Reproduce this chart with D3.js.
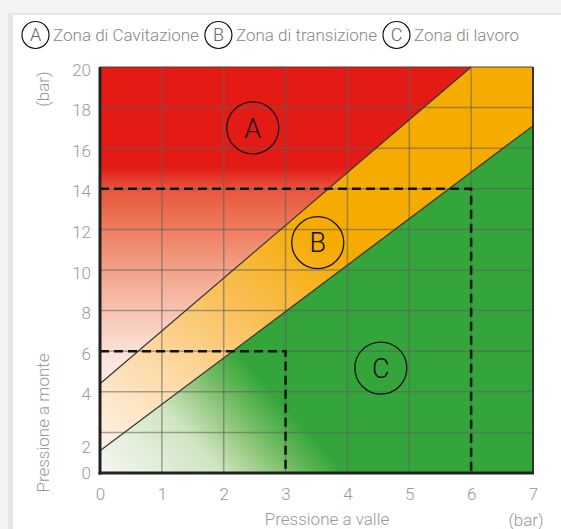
<!DOCTYPE html>
<html>
<head>
<meta charset="utf-8">
<script src="https://cdn.jsdelivr.net/npm/d3@7"></script>
<style>
  html, body { margin: 0; padding: 0; background: #f3f3f3; }
  svg { display: block; }
  text { font-family: Roboto, "Liberation Sans", sans-serif; font-weight: 300; }
</style>
</head>
<body>
<svg id="chart" width="561" height="529"></svg>
<script>
// Données
const zoneLetters = ["A", "B", "C"];
const zoneNames = ["Zona di Cavitazione", "Zona di transizione", "Zona di lavoro"];
const xTicks = [0, 1, 2, 3, 4, 5, 6, 7];
const yTicks = [0, 2, 4, 6, 8, 10, 12, 14, 16, 18, 20];
// limites entre zones (pression aval, pression amont)
const upperLine = [[0, 4.4], [6, 20]];
const lowerLine = [[0, 1.1], [7, 17.1]];
// points de lecture en pointillés
const dashedPoints = [[3, 6], [6, 14]];
// centres des étiquettes A, B, C
const labelPoints = [[2.47, 17.0], [3.52, 11.35], [4.54, 5.17]];

const svg = d3.select("#chart");
const W = 561, H = 529;
const margin = { top: 67, right: 28, bottom: 56, left: 100 };

const x = d3.scaleLinear().domain([0, 7]).range([margin.left, W - margin.right]);
const y = d3.scaleLinear().domain([0, 20]).range([H - margin.bottom, margin.top]);

// Panneau blanc
svg.append("rect").attr("x", 8).attr("y", 13).attr("width", W).attr("height", H).attr("fill", "#e6e6e6");
svg.append("rect").attr("x", 13).attr("y", 15).attr("width", W).attr("height", H).attr("fill", "#fff");

// Dégradés
const defs = svg.append("defs");
function gradient(id, p1, p2, stops) {
    const g = defs.append("linearGradient")
        .attr("id", id)
        .attr("gradientUnits", "userSpaceOnUse")
        .attr("x1", x(p1[0])).attr("y1", y(p1[1]))
        .attr("x2", x(p2[0])).attr("y2", y(p2[1]));
    stops.forEach(s => g.append("stop").attr("offset", s[0]).attr("stop-color", s[1]));
}
gradient("gradA", [0, 20], [0, 4], [
    [0, "#e31b14"], [0.31, "#e31b14"], [0.375, "#e8553c"], [0.5, "#ee7d5e"],
    [0.625, "#f3a288"], [0.75, "#f7c3b1"], [0.875, "#fbe0d7"], [1, "#fff2ee"]
]);
gradient("gradB", [0, 1], [3, 13], [
    [0, "#fef3ea"], [0.35, "#fdd9a5"], [0.7, "#f9bc4c"], [1, "#f6ab00"]
]);
gradient("gradC", [0, 0], [2.2, 6], [
    [0, "#f5f8f2"], [0.5, "#cfe5c2"], [0.65, "#a5d090"], [0.82, "#6cba5e"], [1, "#34a53a"]
]);

// Zones
const zoneA = [[0, 20], upperLine[1], upperLine[0]];
const zoneB = [upperLine[0], upperLine[1], [7, 20], lowerLine[1], lowerLine[0]];
const zoneC = [[0, 0], lowerLine[0], lowerLine[1], [7, 0]];
const line = d3.line().x(d => x(d[0])).y(d => y(d[1]));

svg.append("path").attr("d", line(zoneA) + "Z").attr("fill", "url(#gradA)");
svg.append("path").attr("d", line(zoneB) + "Z").attr("fill", "url(#gradB)");
svg.append("path").attr("d", line(zoneC) + "Z").attr("fill", "url(#gradC)");

// Grille
svg.append("g")
    .selectAll("line.vx")
    .data(xTicks.slice(1, -1))
    .enter()
    .append("line")
    .attr("x1", d => x(d)).attr("x2", d => x(d))
    .attr("y1", y(0)).attr("y2", y(20))
    .attr("stroke", "rgba(95,95,95,0.55)")
    .attr("stroke-width", 1.5);
svg.append("g")
    .selectAll("line.hy")
    .data(yTicks.slice(1, -1))
    .enter()
    .append("line")
    .attr("x1", x(0)).attr("x2", x(7))
    .attr("y1", d => y(d)).attr("y2", d => y(d))
    .attr("stroke", "rgba(95,95,95,0.55)")
    .attr("stroke-width", 1.5);

// Limites des zones
[upperLine, lowerLine].forEach(l => {
    svg.append("path").attr("d", line(l))
        .attr("stroke", "#333").attr("stroke-width", 1.2).attr("fill", "none");
});

// Pointillés
dashedPoints.forEach(p => {
    svg.append("path")
        .attr("d", line([[0, p[1]], p, [p[0], 0]]))
        .attr("fill", "none")
        .attr("stroke", "#111")
        .attr("stroke-width", 2.5)
        .attr("stroke-dasharray", "9,5");
});

// Cadre
svg.append("line").attr("x1", x(0)).attr("x2", x(7)).attr("y1", y(20)).attr("y2", y(20))
    .attr("stroke", "#444").attr("stroke-width", 1.2);
svg.append("line").attr("x1", x(7)).attr("x2", x(7)).attr("y1", y(20)).attr("y2", y(0))
    .attr("stroke", "#333").attr("stroke-width", 2);
svg.append("line").attr("x1", x(0)).attr("x2", x(0)).attr("y1", y(20)).attr("y2", y(0) + 1.5)
    .attr("stroke", "#222").attr("stroke-width", 3);
svg.append("line").attr("x1", x(0) - 1.5).attr("x2", x(7) + 1).attr("y1", y(0)).attr("y2", y(0))
    .attr("stroke", "#222").attr("stroke-width", 3);

// Étiquettes A, B, C
const labels = svg.append("g");
labelPoints.forEach((p, i) => {
    labels.append("circle")
        .attr("cx", x(p[0])).attr("cy", y(p[1])).attr("r", 26)
        .attr("fill", "none").attr("stroke", "#111").attr("stroke-width", 1.3);
    labels.append("text")
        .attr("x", x(p[0])).attr("y", y(p[1]))
        .attr("dy", "0.36em")
        .attr("text-anchor", "middle")
        .attr("font-size", 27)
        .attr("fill", "#111")
        .text(zoneLetters[i]);
});

// Axes
const yAxis = svg.append("g")
    .attr("transform", `translate(${x(0)},0)`)
    .call(d3.axisLeft(y).tickValues(yTicks).tickFormat(d3.format("d")).tickSize(0).tickPadding(9));
yAxis.select(".domain").remove();
yAxis.selectAll("text")
    .attr("font-size", 17).attr("fill", "#999")
    .attr("font-family", null)
    .attr("dy", d => d === 2 ? 20 : (d === 0 ? 5 : 8));

const xAxis = svg.append("g")
    .attr("transform", `translate(0,${y(0)})`)
    .call(d3.axisBottom(x).tickValues(xTicks).tickFormat(d3.format("d")).tickSize(0).tickPadding(15));
xAxis.select(".domain").remove();
xAxis.selectAll("text")
    .attr("font-size", 17).attr("fill", "#999")
    .attr("font-family", null);

// Titres des axes
svg.append("text")
    .attr("transform", `translate(49,423) rotate(-90)`)
    .attr("text-anchor", "middle")
    .attr("font-size", 17).attr("fill", "#999")
    .text("Pressione a monte");
svg.append("text")
    .attr("transform", `translate(49,89) rotate(-90)`)
    .attr("text-anchor", "middle")
    .attr("font-size", 17).attr("fill", "#999")
    .text("(bar)");
svg.append("text")
    .attr("x", 327).attr("y", 525)
    .attr("text-anchor", "middle")
    .attr("font-size", 17).attr("fill", "#999")
    .text("Pressione a valle");
svg.append("text")
    .attr("x", 526).attr("y", 526)
    .attr("text-anchor", "middle")
    .attr("font-size", 17).attr("fill", "#999")
    .text("(bar)");

// Légende
const legend = svg.append("g");
let cursor = 22;
zoneLetters.forEach((l, i) => {
    const r = 13.5;
    legend.append("circle")
        .attr("cx", cursor + r).attr("cy", 35).attr("r", r)
        .attr("fill", "none").attr("stroke", "#111").attr("stroke-width", 1.2);
    legend.append("text")
        .attr("x", cursor + r).attr("y", 35).attr("dy", "0.36em")
        .attr("text-anchor", "middle")
        .attr("font-size", 18).attr("fill", "#666")
        .text(l);
    const t = legend.append("text")
        .attr("x", cursor + 2 * r + 4).attr("y", 35).attr("dy", "0.36em")
        .attr("font-size", 17).attr("fill", "#888")
        .text(zoneNames[i]);
    cursor = cursor + 2 * r + 4 + t.node().getComputedTextLength() + 6;
});
</script>
</body>
</html>
